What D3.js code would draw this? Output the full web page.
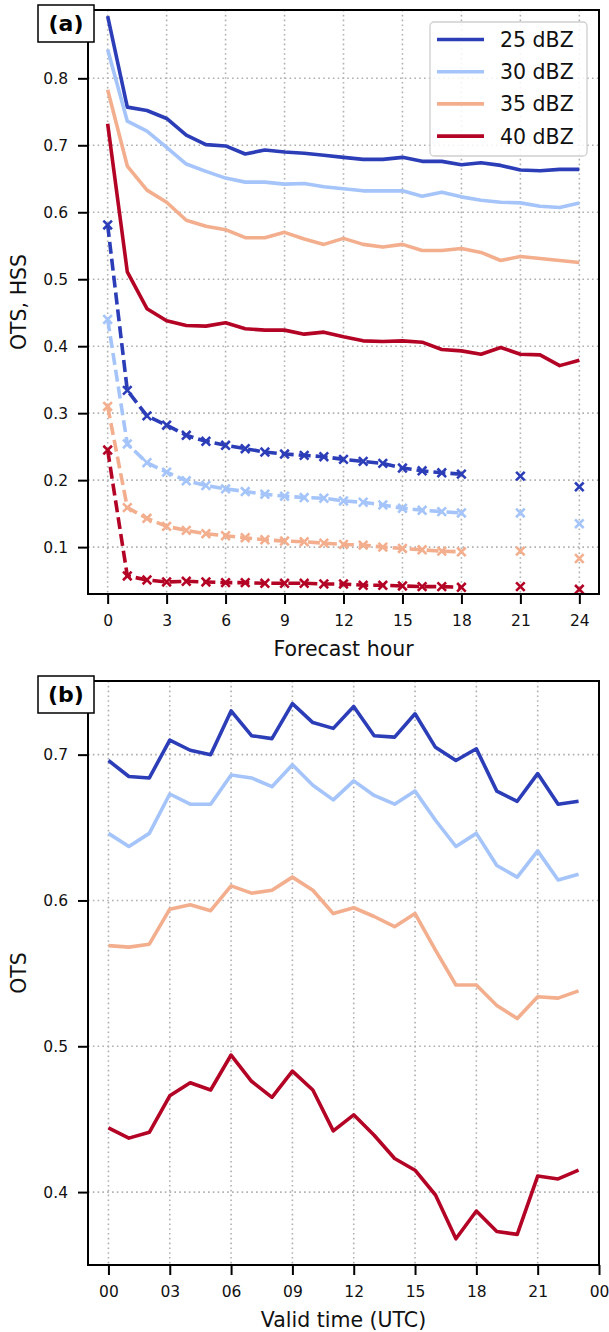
<!DOCTYPE html>
<html>
<head>
<meta charset="utf-8">
<script src="https://cdn.jsdelivr.net/npm/d3@7"></script>
<style>
  body { margin: 0; background: #fff; }
  svg { display: block; font-family: "DejaVu Sans", sans-serif; }
</style>
</head>
<body>
<svg id="chart" width="609" height="1332"></svg>
<script>
// ---- Data ----------------------------------------------------------------
const thresholds = ["25 dBZ", "30 dBZ", "35 dBZ", "40 dBZ"];
const colors = ["#2c3db8", "#a4c4fa", "#f3ae8e", "#b40426"];

// (a) forecast hours 0..24
const forecastHours = d3.range(0, 25);

// OTS by forecast hour (solid)
const ots25 = [0.893, 0.757, 0.752, 0.740, 0.715, 0.701, 0.699, 0.687, 0.693, 0.690, 0.688, 0.685, 0.682, 0.679, 0.679, 0.682, 0.676, 0.676, 0.671, 0.674, 0.670, 0.663, 0.662, 0.664, 0.664];
const ots30 = [0.843, 0.736, 0.721, 0.697, 0.672, 0.661, 0.651, 0.645, 0.645, 0.642, 0.643, 0.638, 0.635, 0.632, 0.632, 0.632, 0.624, 0.630, 0.623, 0.618, 0.615, 0.614, 0.609, 0.607, 0.614];
const ots35 = [0.783, 0.669, 0.633, 0.615, 0.588, 0.579, 0.574, 0.562, 0.562, 0.570, 0.560, 0.552, 0.561, 0.552, 0.548, 0.552, 0.543, 0.543, 0.546, 0.540, 0.528, 0.534, 0.531, 0.528, 0.525];
const ots40 = [0.732, 0.511, 0.456, 0.438, 0.431, 0.430, 0.435, 0.426, 0.424, 0.424, 0.418, 0.421, 0.414, 0.408, 0.407, 0.408, 0.406, 0.395, 0.393, 0.388, 0.398, 0.388, 0.387, 0.371, 0.379];

// HSS by forecast hour (dashed, x markers); null = not available
const hss25 = [0.581, 0.334, 0.296, 0.282, 0.267, 0.258, 0.252, 0.247, 0.242, 0.239, 0.237, 0.235, 0.231, 0.228, 0.225, 0.218, 0.214, 0.211, 0.209, null, null, 0.206, null, null, 0.190];
const hss30 = [0.440, 0.254, 0.226, 0.212, 0.199, 0.192, 0.187, 0.183, 0.179, 0.176, 0.174, 0.173, 0.169, 0.167, 0.163, 0.158, 0.155, 0.153, 0.151, null, null, 0.151, null, null, 0.135];
const hss35 = [0.310, 0.159, 0.143, 0.131, 0.125, 0.120, 0.117, 0.114, 0.111, 0.109, 0.108, 0.106, 0.104, 0.103, 0.100, 0.098, 0.096, 0.094, 0.093, null, null, 0.094, null, null, 0.083];
const hss40 = [0.245, 0.057, 0.051, 0.048, 0.049, 0.048, 0.047, 0.047, 0.046, 0.046, 0.046, 0.045, 0.045, 0.043, 0.043, 0.042, 0.041, 0.041, 0.040, null, null, 0.041, null, null, 0.037];

// (b) valid time 00..23 UTC
const validHours = d3.range(0, 24);
const valid25 = [0.696, 0.685, 0.684, 0.710, 0.703, 0.700, 0.730, 0.713, 0.711, 0.735, 0.722, 0.718, 0.733, 0.713, 0.712, 0.728, 0.705, 0.696, 0.704, 0.675, 0.668, 0.687, 0.666, 0.668];
const valid30 = [0.646, 0.637, 0.646, 0.673, 0.666, 0.666, 0.686, 0.684, 0.678, 0.693, 0.679, 0.669, 0.682, 0.672, 0.666, 0.675, 0.655, 0.637, 0.646, 0.624, 0.616, 0.634, 0.614, 0.618];
const valid35 = [0.569, 0.568, 0.570, 0.594, 0.597, 0.593, 0.610, 0.605, 0.607, 0.616, 0.607, 0.591, 0.595, 0.589, 0.582, 0.591, 0.566, 0.542, 0.542, 0.528, 0.519, 0.534, 0.533, 0.538];
const valid40 = [0.444, 0.437, 0.441, 0.466, 0.475, 0.470, 0.494, 0.476, 0.465, 0.483, 0.470, 0.442, 0.453, 0.439, 0.423, 0.415, 0.398, 0.368, 0.387, 0.373, 0.371, 0.411, 0.409, 0.415];

// Tick values / labels
const ticksA_x = [0, 3, 6, 9, 12, 15, 18, 21, 24];
const ticksA_y = [0.1, 0.2, 0.3, 0.4, 0.5, 0.6, 0.7, 0.8];
const ticksB_x = [0, 3, 6, 9, 12, 15, 18, 21, 24];
const ticksB_xLabels = ["00", "03", "06", "09", "12", "15", "18", "21", "00"];
const ticksB_y = [0.4, 0.5, 0.6, 0.7];

const otsSeries = [ots25, ots30, ots35, ots40];
const hssSeries = [hss25, hss30, hss35, hss40];
const validSeries = [valid25, valid30, valid35, valid40];

// ---- Layout ---------------------------------------------------------------
const svg = d3.select("#chart");
const tickFont = 15.5;
const labelFont = 20.5;
const LW = 3.6;

function panel(opts) {
  const { x, y, top, bottom, left, right, xticks, xfmt, yticks, yfmt, xlabel, ylabel, tag } = opts;
  const g = svg.append("g");

  // dotted grid
  const grid = g.append("g").attr("stroke", "#b0b0b0").attr("stroke-width", 1.6)
    .attr("stroke-dasharray", "1.6,3.2").attr("fill", "none");
  xticks.forEach(t => grid.append("line").attr("x1", x(t)).attr("x2", x(t)).attr("y1", top).attr("y2", bottom));
  yticks.forEach(t => grid.append("line").attr("x1", left).attr("x2", right).attr("y1", y(t)).attr("y2", y(t)));

  // axes
  const xAxis = d3.axisBottom(x).tickValues(xticks).tickFormat(xfmt).tickSizeInner(10).tickSizeOuter(0).tickPadding(11);
  const yAxis = d3.axisLeft(y).tickValues(yticks).tickFormat(yfmt).tickSizeInner(10).tickSizeOuter(0).tickPadding(10);
  const gx = g.append("g").attr("transform", `translate(0,${bottom})`).call(xAxis);
  const gy = g.append("g").attr("transform", `translate(${left},0)`).call(yAxis);
  [gx, gy].forEach(a => {
    a.select(".domain").remove();
    a.selectAll(".tick line").attr("stroke", "#000").attr("stroke-width", 2);
    a.selectAll(".tick text").attr("fill", "#111").style("font-size", tickFont + "px")
      .style("font-family", "DejaVu Sans, sans-serif");
  });

  g.append("text").attr("x", (left + right) / 2).attr("y", bottom + 62)
    .attr("text-anchor", "middle").style("font-size", labelFont + "px").attr("fill", "#111").text(xlabel);
  g.append("text").attr("transform", `translate(26,${(top + bottom) / 2}) rotate(-90)`)
    .attr("text-anchor", "middle").style("font-size", labelFont + "px").attr("fill", "#111").text(ylabel);

  return { g, finish: () => {
    g.append("rect").attr("x", left).attr("y", top).attr("width", right - left).attr("height", bottom - top)
      .attr("fill", "none").attr("stroke", "#000").attr("stroke-width", 2);
    const tg = g.append("g");
    tg.append("rect").attr("x", 38).attr("y", top - 5).attr("width", 56).attr("height", 37)
      .attr("fill", "#fff").attr("stroke", "#000").attr("stroke-width", 1.5);
    tg.append("text").attr("x", 66).attr("y", top + 21).attr("text-anchor", "middle")
      .style("font-size", "22px").style("font-weight", "bold").attr("fill", "#000").text(tag);
  }};
}

// ---- Panel (a) ------------------------------------------------------------
const aTop = 10, aBottom = 594, L = 88, R = 599;
const xA = d3.scaleLinear().domain([-1, 25]).range([L, R]);
const yA = d3.scaleLinear().domain([0.03, 0.902]).range([aBottom, aTop]);

const pa = panel({
  x: xA, y: yA, top: aTop, bottom: aBottom, left: L, right: R,
  xticks: ticksA_x, xfmt: d => String(d), yticks: ticksA_y, yfmt: d3.format(".1f"),
  xlabel: "Forecast hour", ylabel: "OTS, HSS", tag: "(a)"
});

const clipA = svg.append("clipPath").attr("id", "clipA").append("rect")
  .attr("x", L).attr("y", aTop).attr("width", R - L).attr("height", aBottom - aTop);
const plotA = pa.g.append("g").attr("clip-path", "url(#clipA)");

const lineA = d3.line().defined(d => d.v != null).x(d => xA(d.h)).y(d => yA(d.v));

otsSeries.forEach((s, i) => {
  const pts = forecastHours.map((h, k) => ({ h, v: s[k] }));
  plotA.append("path").datum(pts).attr("d", lineA).attr("fill", "none")
    .attr("stroke", colors[i]).attr("stroke-width", LW).attr("stroke-linejoin", "round");
});

hssSeries.forEach((s, i) => {
  const pts = forecastHours.map((h, k) => ({ h, v: s[k] }));
  plotA.append("path").datum(pts).attr("d", lineA).attr("fill", "none")
    .attr("stroke", colors[i]).attr("stroke-width", LW).attr("stroke-dasharray", "12,5");
  const m = 4.3;
  plotA.append("g").selectAll("path").data(pts.filter(d => d.v != null)).join("path")
    .attr("d", d => {
      const cx = xA(d.h), cy = yA(d.v);
      return `M${cx - m},${cy - m}L${cx + m},${cy + m}M${cx - m},${cy + m}L${cx + m},${cy - m}`;
    })
    .attr("stroke", colors[i]).attr("stroke-width", 2.6).attr("fill", "none");
});

// legend
const leg = pa.g.append("g");
leg.append("rect").attr("x", 430).attr("y", 22).attr("width", 157).attr("height", 134).attr("rx", 4)
  .attr("fill", "#fff").attr("fill-opacity", 0.85).attr("stroke", "#cfcfcf").attr("stroke-width", 1.3);
thresholds.forEach((t, i) => {
  const yy = 39.5 + i * 32.2;
  leg.append("line").attr("x1", 437).attr("x2", 484).attr("y1", yy).attr("y2", yy)
    .attr("stroke", colors[i]).attr("stroke-width", LW);
  leg.append("text").attr("x", 500).attr("y", yy + 7.5).style("font-size", labelFont + "px")
    .attr("fill", "#111").text(t);
});

pa.finish();

// ---- Panel (b) ------------------------------------------------------------
const bTop = 681, bBottom = 1265;
const xB = d3.scaleLinear().domain([-1, 24]).range([L, R]);
const yB = d3.scaleLinear().domain([0.35, 0.7505]).range([bBottom, bTop]);

const pb = panel({
  x: xB, y: yB, top: bTop, bottom: bBottom, left: L, right: R,
  xticks: ticksB_x, xfmt: (d, i) => ticksB_xLabels[i], yticks: ticksB_y, yfmt: d3.format(".1f"),
  xlabel: "Valid time (UTC)", ylabel: "OTS", tag: "(b)"
});

const lineB = d3.line().x(d => xB(d.h)).y(d => yB(d.v));
validSeries.forEach((s, i) => {
  const pts = validHours.map((h, k) => ({ h, v: s[k] }));
  pb.g.append("path").datum(pts).attr("d", lineB).attr("fill", "none")
    .attr("stroke", colors[i]).attr("stroke-width", LW).attr("stroke-linejoin", "round");
});

pb.finish();
</script>
</body>
</html>
